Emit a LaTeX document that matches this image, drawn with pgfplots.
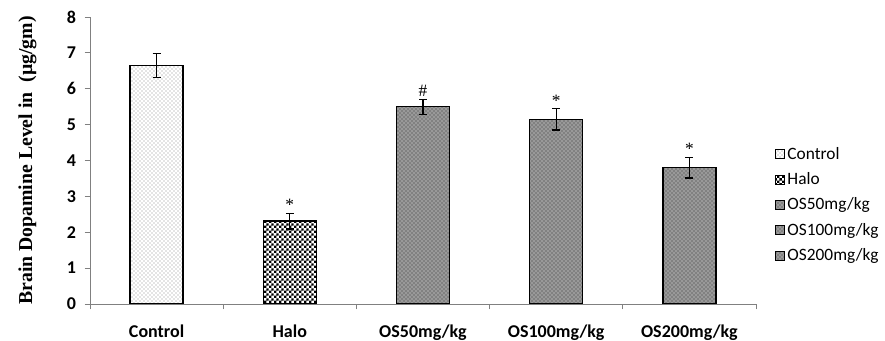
\documentclass[border=0pt]{standalone}
\usepackage{pgfplots}
\pgfplotsset{compat=1.18}
\usepackage{fontspec}
\setmainfont{Liberation Serif}
\newfontfamily\calibri{Carlito}
\usetikzlibrary{patterns,patterns.meta,calc}
\pgfdeclarepattern{
  name=finechecker,
  type=uncolored,
  bottom left={\pgfpoint{0pt}{0pt}},
  top right={\pgfpoint{3.6pt}{3.6pt}},
  tile size={\pgfpoint{3.6pt}{3.6pt}},
  code={
    \pgfpathrectangle{\pgfpoint{0pt}{0pt}}{\pgfpoint{1.85pt}{1.85pt}}
    \pgfpathrectangle{\pgfpoint{1.8pt}{1.8pt}}{\pgfpoint{1.85pt}{1.85pt}}
    \pgfusepath{fill}
  }
}
\tikzset{
  ctrlfill/.style={fill=white, postaction={pattern=crosshatch dots, pattern color=black!45}},
  halofill/.style={fill=white, postaction={pattern=finechecker, pattern color=black}},
  osfill/.style={fill=black!40, postaction={pattern=crosshatch dots, pattern color=black!80}},
}
\begin{document}
\begin{tikzpicture}
\begin{axis}[
  name=ax,
  scale only axis,
  width=499.5pt, height=215.25pt,
  xmin=-0.5, xmax=4.5, ymin=0, ymax=8,
  axis x line*=bottom, axis y line*=left,
  axis line style={draw=black!50, line width=0.6pt},
  ytick={0,1,...,8},
  xtick={0,1,2,3,4},
  xticklabels={Control,Halo,OS50mg/kg,OS100mg/kg,OS200mg/kg},
  minor xtick={-0.5,0.5,1.5,2.5,3.5,4.5},
  x tick style={draw=none},
  minor x tick style={draw=black!50, line width=0.6pt},
  y tick style={draw=black!50, line width=0.6pt},
  tick align=outside,
  major tick length=4pt,
  minor tick length=4pt,
  /pgf/number format/assume math mode=true,
  ticklabel style={font=\calibri\bfseries\fontsize{13.5}{15}\selectfont},
  xticklabel style={yshift=-8pt},
  yticklabel style={xshift=-3pt},
  ylabel={\textbf{Brain Dopamine Level in~~(µg/gm)}},
  ylabel style={at={(axis description cs:-0.094,0.5)}, anchor=center, font=\fontsize{14.8}{16}\selectfont},
  legend style={draw=none, fill=none, at={(1,0.345)}, anchor=west, xshift=14pt,
    font=\calibri\fontsize{13}{14}\selectfont, row sep=4.5pt, inner sep=0pt},
  legend cell align=left,
  legend image code/.code={\draw[#1, line width=0.6pt] (0pt,-3.4pt) rectangle (6.8pt,3.4pt);},
  error bars/error bar style={black, line width=0.9pt},
  error bars/error mark options={black, line width=0.9pt, mark size=3pt, rotate=90},
]
\addplot[ybar, bar width=39.75pt, bar shift=0pt, draw=black, line width=1pt, ctrlfill,
  error bars/.cd, y dir=both, y explicit]
  coordinates {(0,6.65) +- (0,0.33)};
\addlegendentry{Control}
\addplot[ybar, bar width=39.75pt, bar shift=0pt, draw=black, line width=1pt, halofill,
  error bars/.cd, y dir=both, y explicit]
  coordinates {(1,2.31) +- (0,0.22)};
\addlegendentry{Halo}
\addplot[ybar, bar width=39.75pt, bar shift=0pt, draw=black, line width=1pt, osfill,
  error bars/.cd, y dir=both, y explicit]
  coordinates {(2,5.50) +- (0,0.21)};
\addlegendentry{OS50mg/kg}
\addplot[ybar, bar width=39.75pt, bar shift=0pt, draw=black, line width=1pt, osfill,
  error bars/.cd, y dir=both, y explicit]
  coordinates {(3,5.15) +- (0,0.30)};
\addlegendentry{OS100mg/kg}
\addplot[ybar, bar width=39.75pt, bar shift=0pt, draw=black, line width=1pt, osfill,
  error bars/.cd, y dir=both, y explicit]
  coordinates {(4,3.80) +- (0,0.29)};
\addlegendentry{OS200mg/kg}
\addplot[draw=none, mark=none, forget plot, nodes near coords, point meta=explicit symbolic,
  nodes near coords style={anchor=south, font=\fontsize{13}{14}\selectfont, inner sep=1.5pt}]
  coordinates {(1,2.53) [*] (2,5.71) [\#] (3,5.45) [*] (4,4.09) [*]};
\end{axis}
\pgfresetboundingbox
\path[use as bounding box] ($(ax.south west)+(-67.5pt,-27.75pt)$) rectangle ($(ax.south west)+(596.25pt,228pt)$);
\end{tikzpicture}
\end{document}
